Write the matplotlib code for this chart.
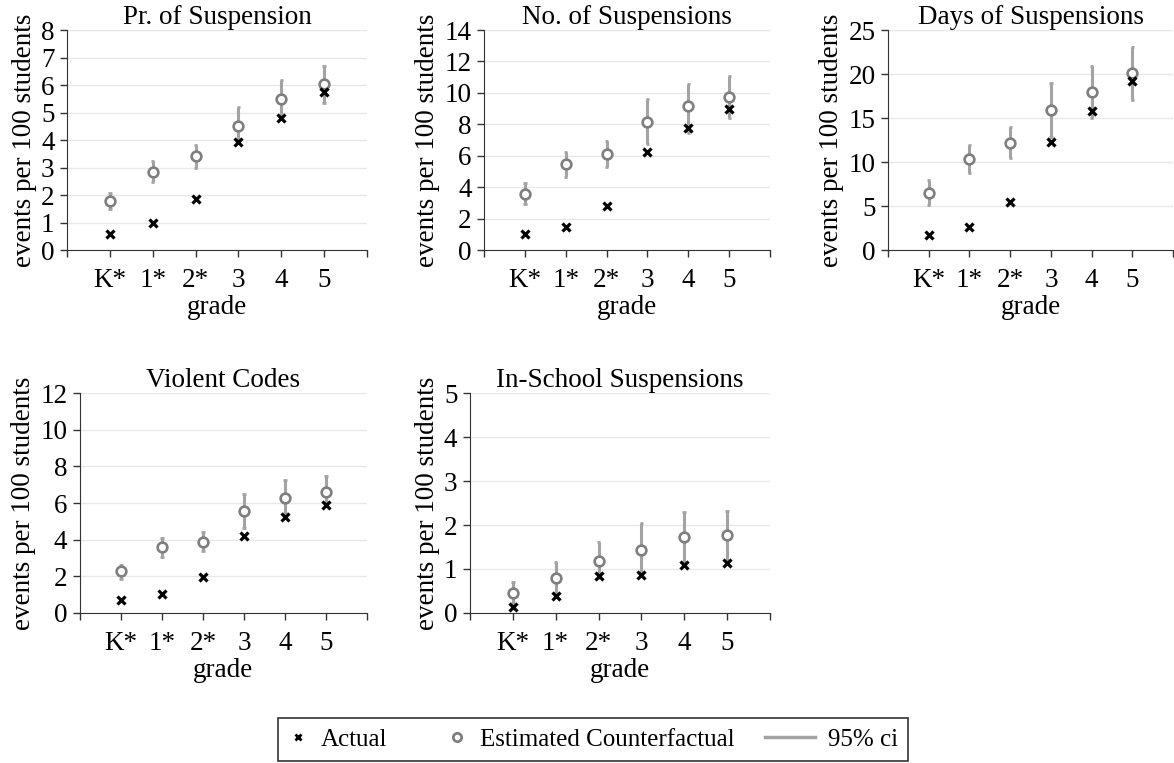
import matplotlib
matplotlib.use("Agg")
import matplotlib.pyplot as plt
from matplotlib.lines import Line2D
from matplotlib.legend_handler import HandlerBase

plt.rcParams["font.family"] = ["Liberation Serif", "DejaVu Serif"]
plt.rcParams["font.size"] = 19.5

GRADES = ["K*", "1*", "2*", "3", "4", "5"]

# actual / counterfactual / 95% ci (lo, hi), per panel
pr_actual = [0.57, 1.00, 1.84, 3.92, 4.81, 5.76]
pr_cf = [1.79, 2.85, 3.43, 4.52, 5.48, 6.04]
pr_lo = [1.48, 2.48, 3.00, 4.02, 4.85, 5.36]
pr_hi = [2.08, 3.24, 3.82, 5.19, 6.18, 6.69]

no_actual = [1.00, 1.48, 2.80, 6.22, 7.79, 8.95]
no_cf = [3.56, 5.45, 6.11, 8.17, 9.16, 9.76]
no_lo = [2.90, 4.62, 5.30, 6.75, 7.42, 8.42]
no_hi = [4.24, 6.26, 6.96, 9.61, 10.56, 11.07]

days_actual = [1.70, 2.58, 5.49, 12.31, 15.83, 19.24]
days_cf = [6.52, 10.30, 12.20, 15.90, 17.92, 20.08]
days_lo = [5.11, 8.71, 10.42, 12.88, 15.04, 17.05]
days_hi = [7.95, 11.93, 14.02, 18.94, 20.90, 23.03]

viol_actual = [0.69, 1.04, 1.97, 4.19, 5.23, 5.89]
viol_cf = [2.28, 3.59, 3.90, 5.56, 6.29, 6.60]
viol_lo = [1.86, 3.06, 3.37, 4.65, 5.47, 5.87]
viol_hi = [2.64, 4.10, 4.41, 6.47, 7.26, 7.48]

iss_actual = [0.13, 0.38, 0.84, 0.87, 1.09, 1.14]
iss_cf = [0.46, 0.80, 1.18, 1.43, 1.72, 1.77]
iss_lo = [0.23, 0.46, 0.80, 0.84, 1.12, 1.18]
iss_hi = [0.70, 1.16, 1.61, 2.04, 2.29, 2.32]

PANELS = [
    ("Pr. of Suspension", pr_actual, pr_cf, pr_lo, pr_hi, 8, 1,
     [0.0571, 0.6723, 0.2555, 0.2883]),
    ("No. of Suspensions", no_actual, no_cf, no_lo, no_hi, 14, 2,
     [0.4123, 0.6723, 0.2436, 0.2883]),
    ("Days of Suspensions", days_actual, days_cf, days_lo, days_hi, 25, 5,
     [0.7564, 0.6723, 0.2428, 0.2883]),
    ("Violent Codes", viol_actual, viol_cf, viol_lo, viol_hi, 12, 2,
     [0.0681, 0.1966, 0.2445, 0.2883]),
    ("In-School Suspensions", iss_actual, iss_cf, iss_lo, iss_hi, 5, 1,
     [0.4003, 0.1966, 0.2555, 0.2883]),
]

CF_COLOR = "#7f7f7f"
CI_COLOR = "#a3a3a3"


class LongLineHandler(HandlerBase):
    # stata draws the ci key longer than the marker keys
    def create_artists(self, legend, orig_handle, xdescent, ydescent,
                       width, height, fontsize, trans):
        y = (height - ydescent) / 2
        line = Line2D([width - 2.0 * fontsize, width], [y, y],
                      color=orig_handle.get_color(), lw=orig_handle.get_linewidth())
        line.set_transform(trans)
        return [line]


fig = plt.figure(figsize=(11.74, 7.63), dpi=100)

x = list(range(1, len(GRADES) + 1))
for title, actual, cf, lo, hi, ymax, step, rect in PANELS:
    ax = fig.add_axes(rect)
    ax.vlines(x, lo, hi, color=CI_COLOR, lw=2.2, zorder=2)
    ax.hlines(lo, [v - 0.04 for v in x], [v + 0.04 for v in x], color=CI_COLOR, lw=2, zorder=2)
    ax.hlines(hi, [v - 0.04 for v in x], [v + 0.04 for v in x], color=CI_COLOR, lw=2, zorder=2)
    ax.plot(x, cf, "o", ms=7, mfc="white", mec=CF_COLOR, mew=1.9, zorder=3)
    ax.plot(x, actual, "x", ms=5.5, color="black", mew=2.3, zorder=4)

    ax.set_xlim(0, 7)
    ax.set_ylim(0, ymax)
    ax.set_xticks(range(0, 8))
    ax.set_xticklabels([""] + GRADES + [""])
    ax.set_yticks(range(0, ymax + 1, step))
    ax.tick_params(axis="both", direction="out", length=5, width=1, color="#333333",
                   labelsize=19.5, pad=4)
    ax.tick_params(axis="x", pad=8)
    ax.grid(axis="y", color="#e8e8e8", lw=1)
    ax.set_axisbelow(True)
    for s in ["top", "right"]:
        ax.spines[s].set_visible(False)
    for s in ["left", "bottom"]:
        ax.spines[s].set_color("#333333")
    ax.set_title(title, fontsize=19.5, pad=4)
    ax.set_xlabel("grade", fontsize=19.5, labelpad=1.5)
    ax.set_ylabel("events per 100 students", fontsize=19.5, labelpad=3)

ci_handle = Line2D([], [], color=CI_COLOR, lw=2.5)
handles = [
    Line2D([], [], ls="none", marker="x", ms=5, color="black", mew=2),
    Line2D([], [], ls="none", marker="o", ms=6, mfc="white", mec=CF_COLOR, mew=2),
    ci_handle,
]
leg = fig.legend(handles, ["Actual", "Estimated Counterfactual", "95% ci"],
                 loc="center", bbox_to_anchor=(0.505, 0.031), ncol=3,
                 frameon=True, fancybox=False, edgecolor="black",
                 fontsize=18, columnspacing=2.4, handlelength=0.8,
                 handletextpad=0.52, borderpad=0.4,
                 handler_map={ci_handle: LongLineHandler()})
leg.get_frame().set_linewidth(1.2)

fig.savefig("out.png", dpi=100)
